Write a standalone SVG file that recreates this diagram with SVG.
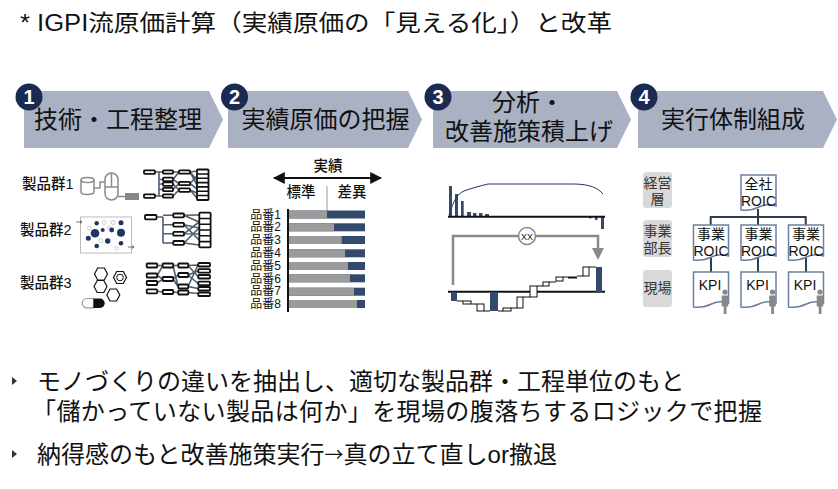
<svg xmlns="http://www.w3.org/2000/svg" width="838" height="489" viewBox="0 0 838 489">
<defs>
<style>
text{font-family:"Liberation Sans","Noto Sans CJK JP",sans-serif;fill:#111}
.ban{fill:#a9b1c3}
.num{fill:#1b2a50}
.numt{fill:#fff;font-size:20px;font-weight:bold;text-anchor:middle}
.bt{font-size:24px;text-anchor:middle}
.nb{fill:#fff;stroke:#111;stroke-width:1.8}
.nl{fill:none;stroke:#4d5d72;stroke-width:1.6}
.gi{fill:none;stroke:#8a8a8a;stroke-width:1.5}
.navy{fill:#344a6c}
.gray{fill:#9b9b9b}
.wb{fill:#fff;stroke:#111;stroke-width:1}
.lbl{fill:#d9d9d9}
.lt{font-size:14px;text-anchor:middle;fill:#333}
.doc{fill:#fff;stroke:#6a80a0;stroke-width:1.5}
.dt{font-size:14px;text-anchor:middle;fill:#111}
.tree{fill:none;stroke:#2c3e50;stroke-width:2}
.person{fill:#888}
.body{font-size:24px}
.pg{font-size:14.5px;font-weight:500}
.arr{font-family:"Noto Sans CJK JP",sans-serif;font-size:19px}
</style>
<marker id="ah" viewBox="0 0 10 10" refX="9" refY="5" markerWidth="6" markerHeight="6" orient="auto-start-reverse"><path d="M0,0 L10,5 L0,10 Z" fill="#111"/></marker>
<path id="hex" d="M-6.5,0 L-3.3,-6 L3.3,-6 L6.5,0 L3.3,6 L-3.3,6 Z" fill="none" stroke="#111" stroke-width="1.2"/>
<path id="docS" d="M0,0 H35 V31 Q26,28 18,32 T0,35 Z"/>
<g id="man"><circle cx="3.3" cy="0" r="2.6"/><rect x="0" y="3.5" width="6.6" height="11"/><rect x="2" y="14" width="2.8" height="8"/></g>
</defs>
<rect width="838" height="489" fill="#fff"/>

<text id="title" x="20" y="31" font-size="23" textLength="592" lengthAdjust="spacingAndGlyphs">* IGPI流原価計算（実績原価の「見える化」）と改革</text>

<g id="step1">
<path class="ban" d="M24,91 H209 L223,119.5 L209,148 H24 Z"/>
<circle class="num" cx="29" cy="97" r="13.5"/><text class="numt" x="29" y="104">1</text>
<text class="bt" x="118" y="128">技術・工程整理</text>
</g>
<g id="step2">
<path class="ban" d="M228,91 H408 L422,119.5 L408,148 H228 Z"/>
<circle class="num" cx="234.5" cy="97" r="13.5"/><text class="numt" x="234.5" y="104">2</text>
<text class="bt" x="325.5" y="128">実績原価の把握</text>
</g>
<g id="step3">
<path class="ban" d="M433,91 H617 L631,119.5 L617,148 H433 Z"/>
<circle class="num" cx="438" cy="97" r="13.5"/><text class="numt" x="438" y="104">3</text>
<text class="bt" x="528" y="111">分析・</text>
<text class="bt" x="529" y="140">改善施策積上げ</text>
</g>
<g id="step4">
<path class="ban" d="M638,91 H823 L837,119.5 L823,148 H638 Z"/>
<circle class="num" cx="644" cy="97" r="13.5"/><text class="numt" x="644" y="104">4</text>
<text class="bt" x="733" y="128">実行体制組成</text>
</g>

<!-- Panel 1 -->
<g id="panel1">
<text class="pg" x="22" y="189">製品群1</text>
<text class="pg" x="20" y="235">製品群2</text>
<text class="pg" x="20" y="288">製品群3</text>
<!-- icon 1 -->
<g class="gi">
<path d="M81,180 V192 A6.5,2.5 0 0 0 94,192 V180"/>
<ellipse cx="87.5" cy="180" rx="6.5" ry="2.5"/>
<polyline points="94,188 100,188 100,182 105,182"/>
<rect x="105" y="173" width="13" height="27" rx="6.5"/>
<line x1="111.5" y1="173" x2="111.5" y2="187"/>
<line x1="105" y1="187" x2="118" y2="187"/>
<line x1="118" y1="196.5" x2="125" y2="196.5"/>
</g>
<rect x="125" y="193" width="14" height="7" fill="#888"/>
<!-- icon 2 -->
<rect x="80.5" y="217" width="51" height="36" fill="#fff" stroke="#bbb" stroke-width="1"/>
<g fill="#fff" stroke="#ccc" stroke-width="1">
<circle cx="104" cy="222.5" r="2"/><circle cx="113" cy="222.5" r="2"/><circle cx="89.3" cy="228.3" r="1.8"/><circle cx="109.3" cy="228" r="1.8"/><circle cx="100.7" cy="240.7" r="2"/><circle cx="116.7" cy="248.3" r="1.8"/>
</g>
<g fill="#1f3566">
<circle cx="96.7" cy="223.3" r="2.2"/><circle cx="121" cy="222.7" r="2.5"/><circle cx="95" cy="233.3" r="4.3"/><circle cx="102.7" cy="230" r="2"/><circle cx="111.7" cy="230" r="2.4"/><circle cx="121" cy="232.7" r="4"/><circle cx="88.3" cy="238.3" r="2.5"/><circle cx="107.7" cy="241" r="2.7"/><circle cx="121" cy="243.3" r="2.3"/><circle cx="96.7" cy="246" r="2.3"/>
</g>
<g stroke="#555" stroke-width="0.8" fill="none"><path d="M76,222 H82 M80,220.5 L82,222 L80,223.5"/><path d="M128,247 H134 M132,245.5 L134,247 L132,248.5"/></g>
<!-- icon 3 -->
<use href="#hex" x="101" y="274"/>
<use href="#hex" x="100.5" y="286.5"/>
<use href="#hex" x="113.3" y="295"/>
<use href="#hex" x="120" y="277.5"/>
<circle cx="120" cy="277.5" r="3.3" fill="none" stroke="#111" stroke-width="1"/>
<path d="M93.5,298.5 H87 A4.7,4.7 0 0 0 87,307.9 H93.5 Z" fill="#fff" stroke="#999" stroke-width="1.2"/>
<path d="M93.5,298.5 H100 A4.7,4.7 0 0 1 100,307.9 H93.5 Z" fill="#111"/>
<!-- network 1 -->
<g class="nl">
<path d="M155,172 H163 M159,172 V196 M155,196 H163 M159,179.5 H163 M159,184 H163 M159,189.5 H163"/>
<path d="M173,172 H179 M173,179.5 L179,183.5 M173,184 L179,190 M173,189.5 L179,183.5 M173,196 L179,190 M173,179.5 L179,172"/>
<path d="M190,172 L197,171 M190,172 L197,180 M190,183.5 L197,176 M190,183.5 L197,189 M190,190 L197,193 M190,190 L197,198 M190,172 L197,185"/>
</g>
<g class="nb">
<rect x="144" y="170.3" width="11" height="3.5" rx="0.8"/><rect x="144" y="194.3" width="11" height="3.5" rx="0.8"/>
<rect x="163" y="170.3" width="10" height="3.4" rx="0.8"/><rect x="163" y="177.7" width="10" height="3.4" rx="0.8"/><rect x="163" y="182.4" width="10" height="3.4" rx="0.8"/><rect x="163" y="187.8" width="10" height="3.4" rx="0.8"/><rect x="163" y="194.3" width="10" height="3.4" rx="0.8"/>
<rect x="179" y="170.3" width="11" height="3.4" rx="0.8"/><rect x="179" y="181.8" width="11" height="3.4" rx="0.8"/><rect x="179" y="188.4" width="11" height="3.4" rx="0.8"/>
<rect x="197" y="169.5" width="11.5" height="30.5" rx="0.8"/>
</g>
<g stroke="#111" stroke-width="1.6"><path d="M197,174 H208.5 M197,178.3 H208.5 M197,182.6 H208.5 M197,186.9 H208.5 M197,191.2 H208.5 M197,195.5 H208.5"/></g>
<!-- network 2 -->
<g class="nl">
<path d="M156,217 H163 M163,217 V243 M163,224.7 H173 M163,233.8 H173 M163,243 H173 M163,215.3 H173"/>
<path d="M184,215.3 L199,215 M184,215.3 L199,222 M184,224.7 L199,228 M184,224.7 L199,240 M184,233.8 L199,222 M184,233.8 L199,234 M184,243 L199,245 M184,243 L199,228"/>
</g>
<g class="nb">
<rect x="145" y="215" width="11.5" height="4.3" rx="0.8"/>
<rect x="173.3" y="213.5" width="10.7" height="3.8" rx="0.8"/><rect x="173.3" y="222.8" width="10.7" height="3.8" rx="0.8"/><rect x="173.3" y="231.9" width="10.7" height="3.8" rx="0.8"/><rect x="173.3" y="241" width="10.7" height="3.8" rx="0.8"/>
<rect x="199.3" y="212.7" width="11.3" height="34.6" rx="0.8"/>
</g>
<g stroke="#111" stroke-width="1.6"><path d="M199.3,218.5 H210.6 M199.3,224.3 H210.6 M199.3,230 H210.6 M199.3,235.8 H210.6 M199.3,241.6 H210.6"/></g>
<!-- network 3 -->
<g class="nl">
<path d="M157,265.5 H163 M157,275.5 L163,279 M157,283 L163,279 M157,291.3 L163,292 M157,275.5 L163,265.5"/>
<path d="M173,265.5 H178 M173,279 L178,275 M173,279 L178,286.5 M173,292 L178,292.5 M173,265.5 L178,286.5"/>
<path d="M188,265.5 L198,265 M188,265.5 L198,276.5 M188,275 L198,271 M188,275 L198,283.5 M188,286.5 L198,288.5 M188,292.5 L198,293.5 M188,286.5 L198,265"/>
</g>
<g class="nb">
<rect x="146.7" y="263.5" width="10.5" height="4" rx="0.8"/><rect x="146.7" y="273.5" width="10.5" height="4" rx="0.8"/><rect x="146.7" y="281" width="10.5" height="4" rx="0.8"/><rect x="146.7" y="289.3" width="10.5" height="4" rx="0.8"/>
<rect x="162.7" y="263.5" width="10.5" height="4" rx="0.8"/><rect x="162.7" y="277" width="10.5" height="4" rx="0.8"/><rect x="162.7" y="290" width="10.5" height="4" rx="0.8"/>
<rect x="178.3" y="263.5" width="10" height="4" rx="0.8"/><rect x="178.3" y="273" width="10" height="4" rx="0.8"/><rect x="178.3" y="284.5" width="10" height="4" rx="0.8"/><rect x="178.3" y="290.5" width="10" height="4" rx="0.8"/>
<rect x="198.3" y="263" width="11.7" height="3.5" rx="0.8"/><rect x="198.3" y="269.2" width="11.7" height="3.5" rx="0.8"/><rect x="198.3" y="275" width="11.7" height="3.5" rx="0.8"/><rect x="198.3" y="281.7" width="11.7" height="3.5" rx="0.8"/><rect x="198.3" y="287" width="11.7" height="3.5" rx="0.8"/><rect x="198.3" y="292.5" width="11.7" height="3.5" rx="0.8"/>
</g>
</g>

<!-- Panel 2 -->
<g id="panel2">
<text x="328" y="171" font-size="14.5" font-weight="500" text-anchor="middle">実績</text>
<line x1="274" y1="178" x2="381" y2="178" stroke="#111" stroke-width="2" marker-start="url(#ah)" marker-end="url(#ah)"/>
<text x="301" y="197" font-size="14.5" font-weight="500" text-anchor="middle">標準</text>
<text x="352" y="197" font-size="14.5" font-weight="500" text-anchor="middle">差異</text>
<line x1="327" y1="186" x2="327" y2="213" stroke="#bbb" stroke-width="1.5"/>
<g font-size="12" text-anchor="end">
<text x="281" y="218.5">品番1</text><text x="281" y="231.3">品番2</text><text x="281" y="244.2">品番3</text><text x="281" y="257.2">品番4</text><text x="281" y="270">品番5</text><text x="281" y="282.5">品番6</text><text x="281" y="295.4">品番7</text><text x="281" y="308">品番8</text>
</g>
<g>
<rect class="navy" x="289" y="210.5" width="76" height="8"/><rect class="gray" x="289" y="210.5" width="38" height="8"/>
<rect class="navy" x="289" y="223.3" width="76" height="8"/><rect class="gray" x="289" y="223.3" width="45" height="8"/>
<rect class="navy" x="289" y="236" width="76" height="8"/><rect class="gray" x="289" y="236" width="52.7" height="8"/>
<rect class="navy" x="289" y="249.3" width="76" height="8"/><rect class="gray" x="289" y="249.3" width="56" height="8"/>
<rect class="navy" x="289" y="262" width="76" height="8"/><rect class="gray" x="289" y="262" width="59" height="8"/>
<rect class="navy" x="289" y="274.3" width="76" height="8"/><rect class="gray" x="289" y="274.3" width="61" height="8"/>
<rect class="navy" x="289" y="287.7" width="76" height="8"/><rect class="gray" x="289" y="287.7" width="65" height="8"/>
<rect class="navy" x="289" y="300" width="76" height="8"/><rect class="gray" x="289" y="300" width="68" height="8"/>
</g>
<line x1="288" y1="209" x2="288" y2="312" stroke="#111" stroke-width="2"/>
</g>

<!-- Panel 3 -->
<g id="panel3">
<g class="navy">
<rect x="449" y="186" width="3" height="30.7"/><rect x="455" y="194" width="3" height="22.7"/><rect x="461" y="201" width="2.7" height="15.7"/><rect x="467" y="212" width="4" height="4.7"/><rect x="473" y="213" width="3.5" height="3.7"/><rect x="479" y="213" width="3.5" height="3.7"/><rect x="485" y="214" width="4" height="2.7"/>
<rect x="589" y="216.7" width="2.5" height="1.7"/><rect x="595" y="216.7" width="2.5" height="3.3"/><rect x="601" y="216.7" width="3" height="12.3"/>
</g>
<path d="M449,215 C454,200 457,194 464,191 C472,188 480,186 488,184 L573,184 C590,184 598,188 603,194" fill="none" stroke="#1f3566" stroke-width="1"/>
<line x1="448" y1="216.7" x2="605" y2="216.7" stroke="#111" stroke-width="2"/>
<line x1="448" y1="291.7" x2="605" y2="291.7" stroke="#111" stroke-width="2"/>
<g stroke="#111" stroke-width="1"><path d="M457,301 H463 M471,304 H477 M484,311 H490 M498,311 H503 M511,308 H517 M523,297 H530 M537,286 H543 M549,282 H556 M563,277 H568 M577,276 H583 M589,267 H596"/></g>
<rect class="navy" x="451" y="292" width="6" height="9"/>
<rect class="wb" x="463" y="301" width="8" height="3"/>
<rect class="wb" x="477" y="304" width="7" height="7"/>
<rect class="navy" x="490" y="292" width="8" height="19"/>
<rect class="wb" x="503" y="308" width="8" height="3"/>
<rect class="wb" x="517" y="297" width="6" height="11"/>
<rect class="wb" x="530" y="286" width="7" height="11"/>
<rect class="wb" x="543" y="282" width="6" height="4"/>
<rect class="wb" x="556" y="277" width="7" height="4"/>
<rect x="568" y="276.5" width="9" height="2" fill="#111"/>
<rect class="wb" x="583" y="267" width="6" height="9"/>
<rect class="navy" x="596" y="267" width="6" height="25"/>
</g>

<g id="connectors">
<path d="M453,285 V236 H598 V249" fill="none" stroke="#8a8a8a" stroke-width="2.5"/>
<polygon points="592,248 604,248 598,260" fill="#8a8a8a"/>
<line x1="758" y1="209" x2="758" y2="217" class="tree"/>
<path class="tree" d="M710.7,226 V217 H805.7 V226 M758,217 V226"/>
<path class="tree" d="M711,258 V272 M758,258 V272 M806,258 V272"/>
</g>

<g id="xx">
<circle cx="527" cy="236" r="8.5" fill="#fff" stroke="#888" stroke-width="1.5"/>
<text x="527" y="239.5" font-size="9" text-anchor="middle" fill="#333">XX</text>
</g>

<!-- Panel 4 -->
<g id="lbl-keiei"><rect class="lbl" x="643" y="172" width="29" height="36" rx="3"/><text class="lt" x="657.5" y="187.5">経営</text><text class="lt" x="657.5" y="204">層</text></g>
<g id="lbl-jigyo"><rect class="lbl" x="643" y="220" width="29" height="37" rx="3"/><text class="lt" x="657.5" y="236">事業</text><text class="lt" x="657.5" y="253">部長</text></g>
<g id="lbl-genba"><rect class="lbl" x="643" y="270" width="29" height="37" rx="3"/><text class="lt" x="657.5" y="293">現場</text></g>

<g id="zensha"><use href="#docS" class="doc" x="741" y="175"/><text class="dt" x="758.5" y="189">全社</text><text class="dt" x="758.5" y="206">ROIC</text></g>
<g id="jigyo1"><use href="#docS" class="doc" x="693.5" y="225"/><text class="dt" x="711" y="239">事業</text><text class="dt" x="711" y="256">ROIC</text></g>
<g id="jigyo2"><use href="#docS" class="doc" x="741" y="225"/><text class="dt" x="758.5" y="239">事業</text><text class="dt" x="758.5" y="256">ROIC</text></g>
<g id="jigyo3"><use href="#docS" class="doc" x="788.5" y="225"/><text class="dt" x="806" y="239">事業</text><text class="dt" x="806" y="256">ROIC</text></g>
<g id="kpi1"><use href="#docS" class="doc" x="693.5" y="272"/><text class="dt" x="710" y="290">KPI</text><use href="#man" class="person" x="721.7" y="292"/></g>
<g id="kpi2"><use href="#docS" class="doc" x="741" y="272"/><text class="dt" x="757.5" y="290">KPI</text><use href="#man" class="person" x="769.2" y="292"/></g>
<g id="kpi3"><use href="#docS" class="doc" x="788.5" y="272"/><text class="dt" x="805" y="290">KPI</text><use href="#man" class="person" x="816.7" y="292"/></g>

<!-- bottom text -->
<g id="bullets">
<polygon points="12,377 17,381 12,385" fill="#333"/>
<text class="body" x="37" y="390">モノづくりの違いを抽出し、適切な製品群・工程単位のもと</text>
<text class="body" x="32" y="420" textLength="730" lengthAdjust="spacing">「儲かっていない製品は何か」を現場の腹落ちするロジックで把握</text>
<polygon points="12,450 17,454 12,458" fill="#333"/>
<text class="body" x="37" y="463">納得感のもと改善施策実行<tspan class="arr" dy="-1.5">→</tspan><tspan dy="1.5">真の立て直しor撤退</tspan></text>
</g>
</svg>
